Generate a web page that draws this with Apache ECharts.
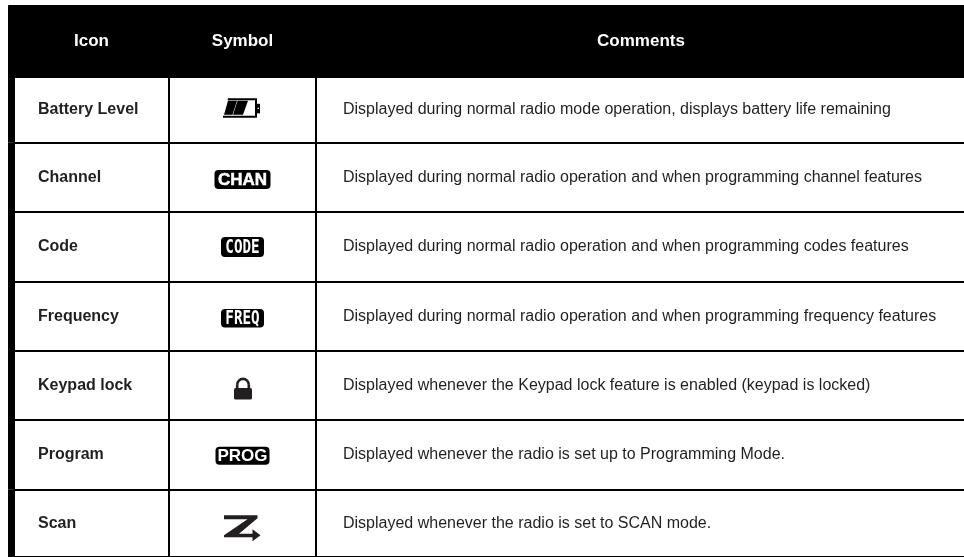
<!DOCTYPE html>
<html>
<head>
<meta charset="utf-8">
<style>html,body{margin:0;padding:0;background:#fff}#main{width:964px;height:557px}</style>
<script src="https://cdn.jsdelivr.net/npm/echarts@6/dist/echarts.min.js"></script>
</head>
<body>
<div id="main"></div>
<script>
var columns = ['Icon', 'Symbol', 'Comments'];
var iconNames = ['Battery Level', 'Channel', 'Code', 'Frequency', 'Keypad lock', 'Program', 'Scan'];
var symbols = ['battery', 'CHAN', 'CODE', 'FREQ', 'lock', 'PROG', 'scan'];
var comments = [
  'Displayed during normal radio mode operation, displays battery life remaining',
  'Displayed during normal radio operation and when programming channel features',
  'Displayed during normal radio operation and when programming codes features',
  'Displayed during normal radio operation and when programming frequency features',
  'Displayed whenever the Keypad lock feature is enabled (keypad is locked)',
  'Displayed whenever the radio is set up to Programming Mode.',
  'Displayed whenever the radio is set to SCAN mode.'
];
var ink = '#231f20';
var font = 'Liberation Sans, Arial, sans-serif';
var rowSizes = [65.7, 69.3, 70, 69, 69, 69.3];

function poly(cx, cy, pts, fill) {
  return {
    type: 'polygon',
    shape: { points: pts.map(function (p) { return [cx + p[0], cy + p[1]]; }) },
    style: { fill: fill || '#000' }
  };
}

// black pill with white lettering
function badge(cx, cy, o) {
  return {
    type: 'group',
    children: [
      { type: 'rect', shape: { x: cx - o.w / 2, y: cy + o.dy - o.h / 2, width: o.w, height: o.h, r: 4 }, style: { fill: '#000' } },
      {
        type: 'text', x: cx, y: cy + o.dy + 0.5, scaleX: o.sx || 1, scaleY: o.sy || 1,
        style: {
          text: o.text, fill: '#fff', stroke: '#fff', lineWidth: o.weight || 0,
          font: 'bold ' + o.size + 'px ' + o.family,
          align: 'center', verticalAlign: 'middle'
        }
      }
    ]
  };
}

function drawSymbol(name, cx, cy) {
  if (name === 'battery') {
    return {
      type: 'group',
      children: [
        poly(cx, cy, [[-14.5, -11.5], [13, -11.5], [13, -9.7], [-15, -9.7]]),
        poly(cx, cy, [[-19.5, 6], [14.5, 6], [14.5, 7.8], [-19.5, 7.8]]),
        poly(cx, cy, [[12.5, -11.5], [14.5, -11.5], [14.5, 7], [12.5, 7]]),
        poly(cx, cy, [[-14.5, -9], [-5.5, -9], [-10, 5], [-18.5, 5]]),
        poly(cx, cy, [[-5, -9], [5.5, -9], [0.5, 5], [-9.5, 5]]),
        poly(cx, cy, [[14.5, -6], [17.5, -6], [17.5, 3.5], [14.5, 3.5]]),
        poly(cx, cy, [[15, -2.2], [16.5, -2.2], [16.5, -0.8], [15, -0.8]], '#fff')
      ]
    };
  }
  if (name === 'lock') {
    return {
      type: 'group',
      children: [
        { type: 'rect', shape: { x: cx - 8.5, y: cy + 2.5, width: 18, height: 11.5, r: 1.5 }, style: { fill: ink } },
        {
          type: 'arc',
          shape: { cx: cx + 0.5, cy: cy - 0.8, r: 5.8, startAngle: Math.PI, endAngle: 0 },
          style: { stroke: ink, fill: null, lineWidth: 2.6 }
        },
        { type: 'line', shape: { x1: cx - 5.3, y1: cy - 1, x2: cx - 5.3, y2: cy + 3 }, style: { stroke: ink, lineWidth: 2.6 } },
        { type: 'line', shape: { x1: cx + 6.3, y1: cy - 1, x2: cx + 6.3, y2: cy + 3 }, style: { stroke: ink, lineWidth: 2.6 } }
      ]
    };
  }
  if (name === 'scan') {
    return {
      type: 'group',
      children: [
        poly(cx, cy, [[-18.5, -8], [15, -8], [15, -5], [-3.5, 10.5], [10, 10.5], [10, 6], [18, 12], [10, 18], [10, 14], [-18.5, 14], [-18.5, 12], [5, -4], [-18.5, -4]], ink)
      ]
    };
  }
  if (name === 'CHAN') return badge(cx, cy, { text: name, w: 56, h: 19, dy: 2.2, size: 17, family: font, weight: 0.5 });
  if (name === 'PROG') return badge(cx, cy, { text: name, w: 54, h: 18, dy: 1.2, size: 17, family: font });
  // CODE and FREQ use a tall narrow lettering on the radio's display
  return badge(cx, cy, {
    text: name, w: 43, h: name === 'CODE' ? 20 : 18.5, dy: name === 'CODE' ? 0 : 1.7,
    size: 15, family: 'DejaVu Sans Mono', sy: 1.3, sx: 0.95
  });
}

var myChart = echarts.init(document.getElementById('main'));
var option = {
  backgroundColor: '#fff',
  animation: false,
  matrix: {
    left: 8,
    top: 5,
    right: -2,
    bottom: 0,
    x: {
      levelSize: 72,
      data: [
        { value: columns[0], size: 155 },
        { value: columns[1], size: 147 },
        { value: columns[2] }
      ],
      itemStyle: { color: '#000', borderColor: '#000', borderWidth: 0 },
      dividerLineStyle: { color: '#000', width: 0 },
      label: { color: '#fff', fontWeight: 'bold', fontSize: 17, fontFamily: font }
    },
    y: {
      levelSize: 6,
      data: iconNames.map(function (n, i) {
        return i < rowSizes.length ? { value: n, size: rowSizes[i] } : { value: n };
      }),
      itemStyle: { color: '#000', borderColor: '#000', borderWidth: 0 },
      dividerLineStyle: { color: '#000', width: 0 },
      label: { show: false }
    },
    corner: { itemStyle: { color: '#000', borderColor: '#000' } },
    body: {
      itemStyle: { color: '#fff', borderColor: '#000', borderWidth: 2 },
      label: { show: false }
    },
    backgroundStyle: { color: '#fff', borderWidth: 0 },
    dividerLineStyle: { color: '#000', width: 2 },
    borderZ2: 1
  },
  series: [
    {
      type: 'custom',
      coordinateSystem: 'matrix',
      data: iconNames.map(function (n, i) { return [columns[0], n]; }),
      renderItem: function (params, api) {
        var i = params.dataIndex;
        var rect = api.layout([columns[0], iconNames[i]]).rect;
        var cy = rect.y + rect.height / 2;
        return {
          type: 'group',
          children: [
            {
              type: 'text', x: rect.x + 24, y: cy,
              style: { text: iconNames[i], fill: ink, font: 'bold 16px ' + font, align: 'left', verticalAlign: 'middle' }
            },
            {
              type: 'text', x: rect.x + 329, y: cy,
              style: { text: comments[i], fill: ink, font: '16px ' + font, align: 'left', verticalAlign: 'middle' }
            }
          ]
        };
      }
    },
    {
      type: 'custom',
      coordinateSystem: 'matrix',
      data: symbols.map(function (s, i) { return [columns[1], iconNames[i]]; }),
      renderItem: function (params, api) {
        var rect = api.layout([columns[1], iconNames[params.dataIndex]]).rect;
        return drawSymbol(symbols[params.dataIndex], rect.x + rect.width / 2, rect.y + rect.height / 2);
      }
    }
  ]
};
myChart.setOption(option);
</script>
</body>
</html>
